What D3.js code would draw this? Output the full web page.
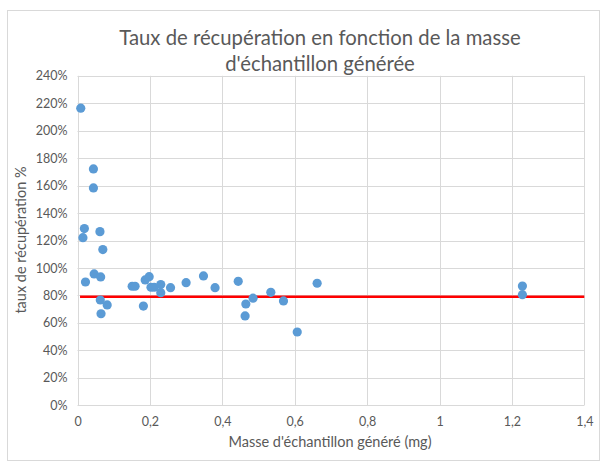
<!DOCTYPE html>
<html><head><meta charset="utf-8">
<script src="https://cdn.jsdelivr.net/npm/d3@7"></script>
<style>
html,body{margin:0;padding:0;background:#fff;}
svg{display:block;}
text{font-family:Lato,"Open Sans",sans-serif;fill:#595959;}
</style></head>
<body><svg id="c" width="602" height="468"></svg>
<script>
const titleLines = ["Taux de récupération en fonction de la masse", "d'échantillon générée"];
const xTitle = "Masse d'échantillon généré (mg)";
const yTitle = "taux de récupération %";
const masse = [0.009,0.044,0.044,0.019,0.015,0.062,0.070,0.022,0.046,0.064,0.063,0.082,0.065,
  0.151,0.159,0.182,0.187,0.198,0.203,0.212,0.230,0.230,0.257,0.300,0.348,0.380,
  0.444,0.465,0.463,0.485,0.534,0.569,0.607,0.662,1.229,1.229];
const taux = [2.164,1.722,1.583,1.287,1.221,1.265,1.134,0.898,0.957,0.935,0.767,0.731,0.667,
  0.867,0.867,0.723,0.913,0.937,0.860,0.860,0.879,0.820,0.857,0.893,0.942,0.857,
  0.903,0.738,0.651,0.780,0.823,0.760,0.534,0.889,0.869,0.806];
const refX = [0.007, 1.4];
const refY = [0.79, 0.79];
const xTicks = [0,0.2,0.4,0.6,0.8,1,1.2,1.4];
const yTicks = [0,0.2,0.4,0.6,0.8,1,1.2,1.4,1.6,1.8,2,2.2,2.4];

const svg = d3.select("#c");
svg.append("rect").attr("x",7.5).attr("y",10.5).attr("width",592).attr("height",450)
  .attr("fill","#fff").attr("stroke","#D9D9D9");

const x = d3.scaleLinear().domain([0,1.4]).range([77.5,584.3]);
const y = d3.scaleLinear().domain([0,2.4]).range([405.3,75.8]);
const fmt = d => String(d).replace(".", ",");

// gridlines
svg.append("g").selectAll("line.h").data(yTicks).join("line")
  .attr("x1",x(0)).attr("x2",x(1.4)).attr("y1",d=>Math.round(y(d))+0.5).attr("y2",d=>Math.round(y(d))+0.5)
  .attr("stroke","#D9D9D9").attr("stroke-width",1);
svg.append("g").selectAll("line.v").data(xTicks).join("line")
  .attr("y1",y(0)).attr("y2",y(2.4)).attr("x1",d=>Math.round(x(d))+0.5).attr("x2",d=>Math.round(x(d))+0.5)
  .attr("stroke","#D9D9D9").attr("stroke-width",1);

// axes
const xAxis = svg.append("g").attr("transform",`translate(0,${y(0)})`)
  .call(d3.axisBottom(x).tickValues(xTicks).tickFormat(fmt).tickSize(0).tickPadding(12));
xAxis.select(".domain").remove();
xAxis.selectAll("text").attr("font-size",12.5).attr("fill","#595959");
const yAxis = svg.append("g").attr("transform",`translate(${x(0)-10},0)`)
  .call(d3.axisLeft(y).tickValues(yTicks).tickFormat(d=>Math.round(d*100)+"%").tickSize(0).tickPadding(0));
yAxis.select(".domain").remove();
yAxis.selectAll("text").attr("font-size",12.5).attr("fill","#595959");

// reference line
const refData = refX.map((v,i)=>({x:v,y:refY[i]}));
svg.append("path").datum(refData)
  .attr("d", d3.line().x(d=>x(d.x)).y(d=>y(d.y)))
  .attr("stroke","#FF0000").attr("stroke-width",2.5).attr("fill","none");

// points
const pts = masse.map((m,i)=>({x:m,y:taux[i]}));
svg.append("g").selectAll("circle").data(pts).join("circle")
  .attr("cx",d=>x(d.x)).attr("cy",d=>y(d.y)).attr("r",4.6).attr("fill","#5B9BD5");

// titles
svg.append("text").attr("x",320).attr("y",45).attr("text-anchor","middle")
  .attr("font-size",20.3).text(titleLines[0]);
svg.append("text").attr("x",320).attr("y",71).attr("text-anchor","middle")
  .attr("font-size",20.3).text(titleLines[1]);
svg.append("text").attr("x",330).attr("y",447).attr("text-anchor","middle")
  .attr("font-size",14.5).text(xTitle);
svg.append("text").attr("transform","translate(26,240) rotate(-90)").attr("text-anchor","middle")
  .attr("font-size",14.5).text(yTitle);
</script></body></html>
